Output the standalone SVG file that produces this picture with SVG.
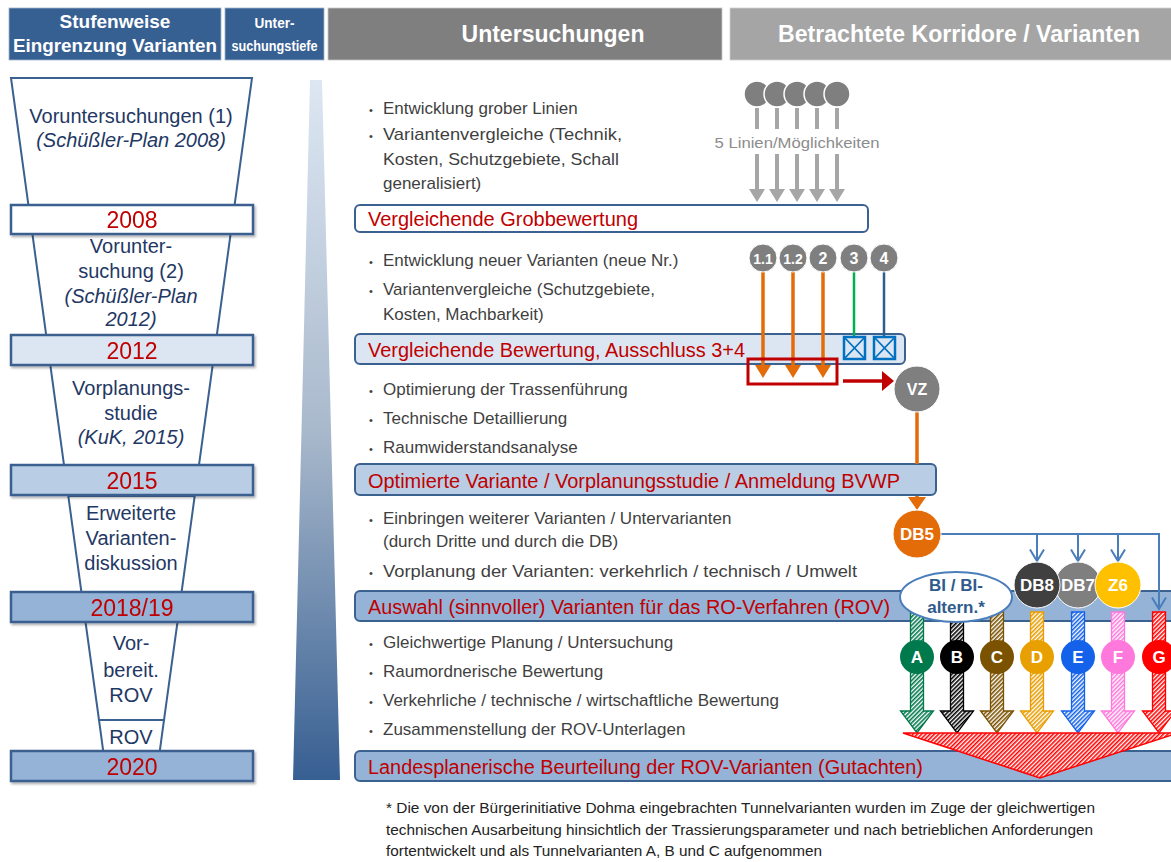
<svg xmlns="http://www.w3.org/2000/svg" width="1171" height="862" viewBox="0 0 1171 862">
  <style>
    text { font-family: "Liberation Sans", Arial, sans-serif; }
    .hdr { font-weight: bold; fill: #ffffff; text-anchor: middle; }
    .fun { fill: #ffffff; stroke: #3b6190; stroke-width: 2; }
    .ft { font-size: 20px; fill: #1f3864; text-anchor: middle; }
    .it { font-style: italic; }
    .yr { stroke: #3b6190; stroke-width: 2.5; }
    .yrt { font-size: 23px; fill: #c00000; text-anchor: middle; }
    .bul { font-size: 17px; fill: #3f3f3f; }
    .bar { stroke: #3b6190; stroke-width: 2; }
    .bart { font-size: 20px; fill: #c00000; }
    .ct { font-weight: bold; fill: #ffffff; text-anchor: middle; }
    .big { stroke-width: 1.3; }
    .foot { font-size: 14px; fill: #222222; }
  </style>
  <defs>
    <linearGradient id="depth" x1="0" y1="0" x2="0" y2="1">
      <stop offset="0" stop-color="#dde7f3"/>
      <stop offset="0.5" stop-color="#a9b9cc"/>
      <stop offset="1" stop-color="#375f92"/>
    </linearGradient>
    <filter id="sh" x="-5%" y="-20%" width="110%" height="150%">
      <feDropShadow dx="1.5" dy="2" stdDeviation="1.2" flood-color="#000" flood-opacity="0.3"/>
    </filter>
    <marker id="mGray" markerUnits="userSpaceOnUse" viewBox="0 0 13 16" markerWidth="13" markerHeight="16" refX="0" refY="8" orient="auto">
      <path d="M0,0 L13,8 L0,16 Z" fill="#a6a6a6"/>
    </marker>
    <marker id="mOr" markerUnits="userSpaceOnUse" viewBox="0 0 13 16" markerWidth="13" markerHeight="16" refX="0" refY="8" orient="auto">
      <path d="M0,0 L13,8 L0,16 Z" fill="#e36c09"/>
    </marker>
    <marker id="mOrBig" markerUnits="userSpaceOnUse" viewBox="0 0 13 18" markerWidth="13" markerHeight="18" refX="0" refY="9" orient="auto">
      <path d="M0,0 L13,9 L0,18 Z" fill="#e36c09"/>
    </marker>
    <marker id="mRed" markerUnits="userSpaceOnUse" viewBox="0 0 12 20" markerWidth="12" markerHeight="20" refX="0" refY="10" orient="auto">
      <path d="M0,0 L12,10 L0,20 Z" fill="#c00000"/>
    </marker>
    <marker id="mBlue" markerUnits="userSpaceOnUse" viewBox="0 0 14 16" markerWidth="14" markerHeight="16" refX="12.5" refY="8" orient="auto">
      <path d="M1,1 L12.5,8 L1,15" fill="none" stroke="#4a7ebb" stroke-width="2"/>
    </marker>
    <pattern id="hA" patternUnits="userSpaceOnUse" width="3" height="3" patternTransform="rotate(45)"><rect width="3" height="3" fill="#fff"/><rect width="1.6" height="3" fill="#00784a"/></pattern>
    <pattern id="hB" patternUnits="userSpaceOnUse" width="3" height="3" patternTransform="rotate(45)"><rect width="3" height="3" fill="#fff"/><rect width="1.6" height="3" fill="#000000"/></pattern>
    <pattern id="hC" patternUnits="userSpaceOnUse" width="3" height="3" patternTransform="rotate(45)"><rect width="3" height="3" fill="#fff"/><rect width="1.6" height="3" fill="#7a5200"/></pattern>
    <pattern id="hD" patternUnits="userSpaceOnUse" width="3" height="3" patternTransform="rotate(45)"><rect width="3" height="3" fill="#fff"/><rect width="1.6" height="3" fill="#e89c00"/></pattern>
    <pattern id="hE" patternUnits="userSpaceOnUse" width="3" height="3" patternTransform="rotate(45)"><rect width="3" height="3" fill="#fff"/><rect width="1.6" height="3" fill="#1462ea"/></pattern>
    <pattern id="hF" patternUnits="userSpaceOnUse" width="3" height="3" patternTransform="rotate(45)"><rect width="3" height="3" fill="#fff"/><rect width="1.6" height="3" fill="#ff78dc"/></pattern>
    <pattern id="hG" patternUnits="userSpaceOnUse" width="3" height="3" patternTransform="rotate(45)"><rect width="3" height="3" fill="#fff"/><rect width="1.6" height="3" fill="#ff0000"/></pattern>
  </defs>

  <rect width="1171" height="862" fill="#ffffff"/>

  <!-- column headers -->
  <g id="hdr-stufen">
    <rect x="9" y="8" width="212" height="52" fill="#376092" stroke="#9fb3cc" stroke-width="0.8"/>
    <text class="hdr" x="115" y="28" font-size="19">Stufenweise</text>
    <text class="hdr" x="115" y="52" font-size="19" textLength="204" lengthAdjust="spacingAndGlyphs">Eingrenzung Varianten</text>
  </g>
  <g id="hdr-tiefe">
    <rect x="225" y="8" width="99" height="52" fill="#376092" stroke="#9fb3cc" stroke-width="0.8"/>
    <text class="hdr" x="274.5" y="28" font-size="15" textLength="40" lengthAdjust="spacingAndGlyphs">Unter-</text>
    <text class="hdr" x="274.5" y="51" font-size="15" textLength="86" lengthAdjust="spacingAndGlyphs">suchungstiefe</text>
  </g>
  <g id="hdr-unters">
    <rect x="328" y="8" width="394" height="52" fill="#7f7f7f" stroke="#c8c8c8" stroke-width="0.8"/>
    <text class="hdr" x="553" y="42" font-size="23" textLength="183" lengthAdjust="spacingAndGlyphs">Untersuchungen</text>
  </g>
  <g id="hdr-korridore">
    <rect x="730" y="8" width="445" height="52" fill="#a5a5a5" stroke="#d0d0d0" stroke-width="0.8"/>
    <text class="hdr" x="959" y="42" font-size="23" fill="#f6f6f6" textLength="362" lengthAdjust="spacingAndGlyphs">Betrachtete Korridore / Varianten</text>
  </g>

  <!-- funnel of stages -->
  <g id="stage-vu1">
    <polygon class="fun" points="11,78 252,78 234.6,205 28.4,205"/>
    <text class="ft" x="131" y="123">Voruntersuchungen (1)</text>
    <text class="ft it" x="131" y="147">(Schüßler-Plan 2008)</text>
  </g>
  <g id="stage-vu2">
    <polygon class="fun" points="32.4,234 230.6,234 216.7,336 46.3,336"/>
    <text class="ft" x="131" y="253">Vorunter-</text>
    <text class="ft" x="131" y="278">suchung (2)</text>
    <text class="ft it" x="131" y="303">(Schüßler-Plan</text>
    <text class="ft it" x="131" y="326">2012)</text>
  </g>
  <g id="stage-vps">
    <polygon class="fun" points="50.3,365 212.7,365 199,465 64,465"/>
    <text class="ft" x="131" y="395">Vorplanungs-</text>
    <text class="ft" x="131" y="420">studie</text>
    <text class="ft it" x="131" y="444">(KuK, 2015)</text>
  </g>
  <g id="stage-diskussion">
    <polygon class="fun" points="68.3,496 194.7,496 181.6,592 81.4,592"/>
    <text class="ft" x="131" y="520">Erweiterte</text>
    <text class="ft" x="131" y="545">Varianten-</text>
    <text class="ft" x="131" y="570">diskussion</text>
  </g>
  <g id="stage-vorbereit">
    <polygon class="fun" points="85.5,622 177.5,622 164,720 99,720"/>
    <text class="ft" x="131" y="650">Vor-</text>
    <text class="ft" x="131" y="677">bereit.</text>
    <text class="ft" x="131" y="702">ROV</text>
  </g>
  <g id="stage-rov">
    <polygon class="fun" points="99,720 164,720 159.8,751 103.2,751"/>
    <text class="ft" x="131" y="744">ROV</text>
  </g>

  <!-- year bars -->
  <g id="year-2008" filter="url(#sh)">
    <rect class="yr" x="11" y="205" width="242" height="29" fill="#ffffff"/>
    <text class="yrt" x="132" y="228">2008</text>
  </g>
  <g id="year-2012" filter="url(#sh)">
    <rect class="yr" x="11" y="335" width="242" height="30" fill="#dce6f2"/>
    <text class="yrt" x="132" y="359">2012</text>
  </g>
  <g id="year-2015" filter="url(#sh)">
    <rect class="yr" x="11" y="465" width="242" height="30" fill="#b9cde5"/>
    <text class="yrt" x="132" y="489">2015</text>
  </g>
  <g id="year-2018" filter="url(#sh)">
    <rect class="yr" x="11" y="592" width="242" height="30" fill="#95b3d7"/>
    <text class="yrt" x="132" y="616">2018/19</text>
  </g>
  <g id="year-2020" filter="url(#sh)">
    <rect class="yr" x="11" y="751" width="242" height="30" fill="#95b3d7"/>
    <text class="yrt" x="132" y="775">2020</text>
  </g>

  <!-- depth wedge -->
  <g id="depth-wedge">
    <polygon points="310,80 322,80 340,780 293,780" fill="url(#depth)"/>
  </g>

  <!-- investigation steps -->
  <g id="steps-1">
    <text class="bul" x="369" y="114"><tspan font-size="11">•</tspan><tspan x="383">Entwicklung grober Linien</tspan></text>
    <text class="bul" x="369" y="140"><tspan font-size="11">•</tspan><tspan x="383" textLength="239" lengthAdjust="spacingAndGlyphs">Variantenvergleiche (Technik,</tspan></text>
    <text class="bul" x="383" y="165" textLength="236" lengthAdjust="spacingAndGlyphs">Kosten, Schutzgebiete, Schall</text>
    <text class="bul" x="383" y="189">generalisiert)</text>
  </g>
  <g id="result-grob">
    <rect class="bar" x="355" y="205" width="513" height="27" rx="5" fill="#ffffff"/>
    <text class="bart" x="368" y="226" textLength="270" lengthAdjust="spacingAndGlyphs">Vergleichende Grobbewertung</text>
  </g>
  <g id="steps-2">
    <text class="bul" x="369" y="266"><tspan font-size="11">•</tspan><tspan x="383">Entwicklung neuer Varianten (neue Nr.)</tspan></text>
    <text class="bul" x="369" y="295"><tspan font-size="11">•</tspan><tspan x="383">Variantenvergleiche (Schutzgebiete,</tspan></text>
    <text class="bul" x="383" y="320">Kosten, Machbarkeit)</text>
  </g>
  <g id="result-ausschluss">
    <rect class="bar" x="355" y="334" width="550" height="30" rx="5" fill="#dce6f2"/>
    <text class="bart" x="368" y="357" textLength="377" lengthAdjust="spacingAndGlyphs">Vergleichende Bewertung, Ausschluss 3+4</text>
  </g>
  <g id="steps-3">
    <text class="bul" x="369" y="395"><tspan font-size="11">•</tspan><tspan x="383">Optimierung der Trassenführung</tspan></text>
    <text class="bul" x="369" y="424"><tspan font-size="11">•</tspan><tspan x="383">Technische Detaillierung</tspan></text>
    <text class="bul" x="369" y="453"><tspan font-size="11">•</tspan><tspan x="383">Raumwiderstandsanalyse</tspan></text>
  </g>
  <g id="result-bvwp">
    <rect class="bar" x="355" y="464" width="581" height="31" rx="5" fill="#b9cde5"/>
    <text class="bart" x="368" y="488" textLength="532" lengthAdjust="spacingAndGlyphs">Optimierte Variante / Vorplanungsstudie / Anmeldung BVWP</text>
  </g>
  <g id="steps-4">
    <text class="bul" x="369" y="524"><tspan font-size="11">•</tspan><tspan x="383">Einbringen weiterer Varianten / Untervarianten</tspan></text>
    <text class="bul" x="383" y="547">(durch Dritte und durch die DB)</text>
    <text class="bul" x="369" y="577"><tspan font-size="11">•</tspan><tspan x="383" textLength="474" lengthAdjust="spacingAndGlyphs">Vorplanung der Varianten: verkehrlich / technisch / Umwelt</tspan></text>
  </g>
  <g id="result-auswahl">
    <rect class="bar" x="355" y="591" width="830" height="30" rx="5" fill="#95b3d7"/>
    <text class="bart" x="368" y="614" textLength="522" lengthAdjust="spacingAndGlyphs">Auswahl (sinnvoller) Varianten für das RO-Verfahren (ROV)</text>
  </g>
  <g id="steps-5">
    <text class="bul" x="369" y="648"><tspan font-size="11">•</tspan><tspan x="383">Gleichwertige Planung / Untersuchung</tspan></text>
    <text class="bul" x="369" y="677"><tspan font-size="11">•</tspan><tspan x="383">Raumordnerische Bewertung</tspan></text>
    <text class="bul" x="369" y="706"><tspan font-size="11">•</tspan><tspan x="383">Verkehrliche / technische / wirtschaftliche Bewertung</tspan></text>
    <text class="bul" x="369" y="735"><tspan font-size="11">•</tspan><tspan x="383">Zusammenstellung der ROV-Unterlagen</tspan></text>
  </g>
  <g id="result-landesplanung">
    <rect class="bar" x="355" y="751" width="830" height="30" rx="5" fill="#95b3d7"/>
    <text class="bart" x="368" y="774" textLength="555" lengthAdjust="spacingAndGlyphs">Landesplanerische Beurteilung der ROV-Varianten (Gutachten)</text>
  </g>

  <!-- connectors -->
  <g id="connectors" fill="none">
    <g stroke="#a6a6a6" stroke-width="4">
      <path d="M757,108 V129 M777,108 V129 M797,108 V129 M817,108 V129 M837,108 V129"/>
      <path d="M757,154 V189" marker-end="url(#mGray)"/>
      <path d="M777,154 V189" marker-end="url(#mGray)"/>
      <path d="M797,154 V189" marker-end="url(#mGray)"/>
      <path d="M817,154 V189" marker-end="url(#mGray)"/>
      <path d="M837,154 V189" marker-end="url(#mGray)"/>
    </g>
    <g stroke="#e36c09" stroke-width="3.5">
      <path d="M763,272 V365" marker-end="url(#mOr)"/>
      <path d="M793,272 V365" marker-end="url(#mOr)"/>
      <path d="M823,272 V365" marker-end="url(#mOr)"/>
      <path d="M917,412 V464 M917,496 V497" marker-end="url(#mOrBig)"/>
    </g>
    <path d="M854,272 V337" stroke="#00b050" stroke-width="2.5"/>
    <path d="M884,272 V337" stroke="#2e5e8e" stroke-width="2.5"/>
    <path d="M843,381 H882" stroke="#c00000" stroke-width="3.5" marker-end="url(#mRed)"/>
    <g stroke="#4a7ebb" stroke-width="2">
      <path d="M940,534 H1159 V609" marker-end="url(#mBlue)"/>
      <path d="M1037,534 V561" marker-end="url(#mBlue)"/>
      <path d="M1078,534 V561" marker-end="url(#mBlue)"/>
      <path d="M1118,534 V561" marker-end="url(#mBlue)"/>
    </g>
  </g>

  <!-- initial five lines -->
  <g id="lines-5">
    <g fill="#7f7f7f" stroke="#ffffff" stroke-width="1.5">
      <circle cx="757" cy="94" r="13"/>
      <circle cx="777" cy="94" r="13"/>
      <circle cx="797" cy="94" r="13"/>
      <circle cx="817" cy="94" r="13"/>
      <circle cx="837" cy="94" r="13"/>
    </g>
    <text x="797" y="148" font-family="'Open Sans', 'Liberation Sans', sans-serif" font-size="15" fill="#8c8c8c" text-anchor="middle" textLength="165" lengthAdjust="spacingAndGlyphs">5 Linien/Möglichkeiten</text>
  </g>

  <!-- numbered variants -->
  <g id="var-1-1"><circle cx="763" cy="258" r="14" fill="#7f7f7f" stroke="#fff"/><text class="ct" x="763" y="264" font-size="14">1.1</text></g>
  <g id="var-1-2"><circle cx="793" cy="258" r="14" fill="#7f7f7f" stroke="#fff"/><text class="ct" x="793" y="264" font-size="14">1.2</text></g>
  <g id="var-2"><circle cx="823" cy="258" r="14" fill="#7f7f7f" stroke="#fff"/><text class="ct" x="823" y="264" font-size="16">2</text></g>
  <g id="var-3"><circle cx="854" cy="258" r="14" fill="#7f7f7f" stroke="#fff"/><text class="ct" x="854" y="264" font-size="16">3</text></g>
  <g id="var-4"><circle cx="884" cy="258" r="14" fill="#7f7f7f" stroke="#fff"/><text class="ct" x="884" y="264" font-size="16">4</text></g>

  <!-- excluded variants -->
  <g id="excl-3" fill="#dce6f2" stroke="#0070c0" stroke-width="2.5">
    <rect x="844" y="337" width="21" height="22"/>
    <path d="M844,337 L865,359 M865,337 L844,359" fill="none" stroke-width="1.8"/>
  </g>
  <g id="excl-4" fill="#dce6f2" stroke="#0070c0" stroke-width="2.5">
    <rect x="874" y="337" width="21" height="22"/>
    <path d="M874,337 L895,359 M895,337 L874,359" fill="none" stroke-width="1.8"/>
  </g>

  <!-- retained variants -->
  <g id="kept-group">
    <rect x="748" y="359" width="89" height="25" fill="none" stroke="#c00000" stroke-width="3"/>
  </g>

  <g id="vz"><circle cx="917" cy="389" r="23" fill="#7f7f7f" stroke="#fff"/><text class="ct" x="917" y="395" font-size="16">VZ</text></g>
  <g id="db5"><circle cx="917" cy="534" r="24" fill="#e36c09" stroke="#fff"/><text class="ct" x="917" y="540" font-size="17">DB5</text></g>

  <!-- corridor arrows A-G -->
  <g id="arrow-a"><path class="big" d="M910.5,612 H923.5 V711 H933.5 L917,733 L900.5,711 H910.5 Z" fill="url(#hA)" stroke="#00784a"/><circle cx="917" cy="657" r="17" fill="#007a4d"/><text class="ct" x="917" y="663" font-size="17">A</text></g>
  <g id="arrow-b"><path class="big" d="M950.5,612 H963.5 V711 H973.5 L957,733 L940.5,711 H950.5 Z" fill="url(#hB)" stroke="#000"/><circle cx="957" cy="657" r="17" fill="#000"/><text class="ct" x="957" y="663" font-size="17">B</text></g>
  <g id="arrow-c"><path class="big" d="M990.5,612 H1003.5 V711 H1013.5 L997,733 L980.5,711 H990.5 Z" fill="url(#hC)" stroke="#7a5200"/><circle cx="997" cy="657" r="17" fill="#7a5200"/><text class="ct" x="997" y="663" font-size="17">C</text></g>
  <g id="arrow-d"><path class="big" d="M1030.5,612 H1043.5 V711 H1053.5 L1037,733 L1020.5,711 H1030.5 Z" fill="url(#hD)" stroke="#e89c00"/><circle cx="1037" cy="657" r="17" fill="#e8a000"/><text class="ct" x="1037" y="663" font-size="17">D</text></g>
  <g id="arrow-e"><path class="big" d="M1071.5,612 H1084.5 V711 H1094.5 L1078,733 L1061.5,711 H1071.5 Z" fill="url(#hE)" stroke="#1462ea"/><circle cx="1078" cy="657" r="17" fill="#1462ea"/><text class="ct" x="1078" y="663" font-size="17">E</text></g>
  <g id="arrow-f"><path class="big" d="M1111.5,612 H1124.5 V711 H1134.5 L1118,733 L1101.5,711 H1111.5 Z" fill="url(#hF)" stroke="#ff78dc"/><circle cx="1118" cy="657" r="17" fill="#ff78dc"/><text class="ct" x="1118" y="663" font-size="17">F</text></g>
  <g id="arrow-g"><path class="big" d="M1152.5,612 H1165.5 V711 H1175.5 L1159,733 L1142.5,711 H1152.5 Z" fill="url(#hG)" stroke="#ff0000"/><circle cx="1159" cy="657" r="17" fill="#ff0000"/><text class="ct" x="1159" y="663" font-size="17">G</text></g>

  <!-- merge into ROV assessment -->
  <g id="merge-funnel">
    <polygon points="903,733 1178,733 1040,778" fill="url(#hG)" stroke="#ff0000" stroke-width="1.5"/>
  </g>

  <!-- added variants -->
  <g id="bi"><ellipse cx="956" cy="597" rx="56" ry="25" fill="#ffffff" stroke="#4a7ebb" stroke-width="2"/><text x="956" y="591" font-size="17" font-weight="bold" fill="#2f5a8c" text-anchor="middle">BI / BI-</text><text x="956" y="613" font-size="17" font-weight="bold" fill="#2f5a8c" text-anchor="middle">altern.*</text></g>
  <g id="db7"><circle cx="1078" cy="585" r="23" fill="#7f7f7f" stroke="#fff"/><text class="ct" x="1078" y="591" font-size="17">DB7</text></g>
  <g id="db8"><circle cx="1037" cy="585" r="23" fill="#404040" stroke="#fff"/><text class="ct" x="1037" y="591" font-size="17">DB8</text></g>
  <g id="z6"><circle cx="1118" cy="585" r="23" fill="#ffc000" stroke="#fff"/><text class="ct" x="1118" y="591" font-size="17">Z6</text></g>

  <!-- footnote -->
  <g id="footnote">
    <text class="foot" x="386" y="813" textLength="709" lengthAdjust="spacingAndGlyphs">* Die von der Bürgerinitiative Dohma eingebrachten Tunnelvarianten wurden im Zuge der gleichwertigen</text>
    <text class="foot" x="386" y="835" textLength="707" lengthAdjust="spacingAndGlyphs">technischen Ausarbeitung hinsichtlich der Trassierungsparameter und nach betrieblichen Anforderungen</text>
    <text class="foot" x="386" y="856" textLength="436" lengthAdjust="spacingAndGlyphs">fortentwickelt und als Tunnelvarianten A, B und C aufgenommen</text>
  </g>
</svg>
